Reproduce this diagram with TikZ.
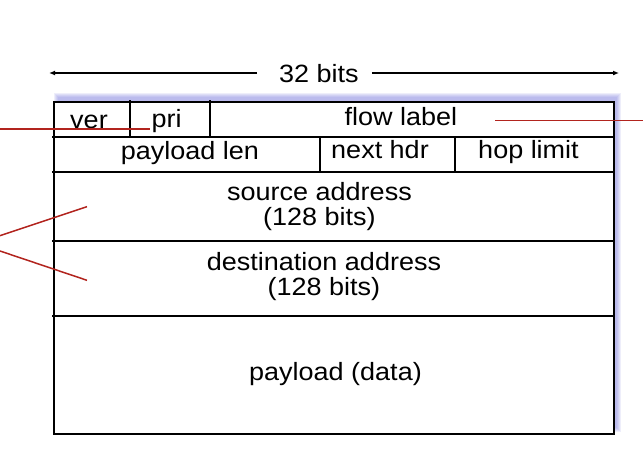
\documentclass[tikz,border=0pt]{standalone}
\usepackage{fontspec}
\setmainfont{Liberation Sans}[FakeStretch=1.08]
\usetikzlibrary{arrows.meta}
\definecolor{lbl}{RGB}{178,36,30}
\definecolor{glow}{RGB}{120,120,220}
\begin{document}
\begin{tikzpicture}[x=1pt,y=-1pt,
  txt/.style={inner sep=0pt, anchor=base, font=\fontsize{25}{24.6}\selectfont, align=center},
  gridline/.style={line width=2pt, line cap=rect},
  redline/.style={draw=lbl, line width=1.5pt},
  dimline/.style={line width=1.3pt, -{Latex[length=6pt,width=5pt]}}]
\useasboundingbox (0,0) rectangle (644,450);
% soft blue shadow
\foreach \i in {0,...,4}
  \fill[glow, opacity=0.13] (58-\i,97-\i) rectangle (617+\i,428+\i);
% outer box
\node[draw, fill=white, line width=2pt, inner sep=0pt, anchor=north west,
      minimum width=560pt, minimum height=331.5pt] (hdr) at (53,101) {};
% grid
\draw[gridline] (53,136.7) -- (613,136.7);
\draw[gridline] (53,171.5) -- (613,171.5);
\draw[gridline] (53,240.7) -- (613,240.7);
\draw[gridline] (53,316) -- (613,316);
\draw[gridline] (129.8,101) -- (129.8,136.7);
\draw[gridline] (210.3,101) -- (210.3,136.7);
\draw[gridline] (320,136.7) -- (320,171.5);
\draw[gridline] (455,136.7) -- (455,171.5);
% 32 bits dimension
\node[txt] (bits) at (319,82) {32 bits};
\coordinate (L) at (49,73);
\coordinate (R) at (619,73);
\draw[dimline] ([xshift=-22pt,yshift=9pt]bits.base west) -- (L);
\draw[dimline] ([xshift=13pt,yshift=9pt]bits.base east) -- (R);
% field labels
\node[txt] (ver) at (89,128) {ver};
\node[txt] (pri) at (166.7,127.5) {pri};
\node[txt] (flow) at (401,125.5) {flow label};
\node[txt] (plen) at (190,159) {payload len};
\node[txt] (nhdr) at (380,158.5) {next hdr};
\node[txt] (hop) at (528.5,158.5) {hop limit};
\node[txt] (src) at (319.5,225) {source address\\(128 bits)};
\node[txt] (dst) at (324,295.5) {destination address\\(128 bits)};
\node[txt] (pay) at (335.5,380) {payload (data)};
% red callout lines
\coordinate (r1a) at (0,129);
\coordinate (r1b) at (149.5,129);
\coordinate (r2a) at (495,120.7);
\coordinate (r2b) at (643,120.7);
\coordinate (r3a) at (0,235.7);
\coordinate (r3b) at (87,206.7);
\coordinate (r4a) at (0,251);
\coordinate (r4b) at (87,280.3);
\draw[redline] (r1a) -- (r1b);
\draw[redline] (r2a) -- (r2b);
\draw[redline] (r3a) -- (r3b);
\draw[redline] (r4a) -- (r4b);
\end{tikzpicture}
\end{document}
